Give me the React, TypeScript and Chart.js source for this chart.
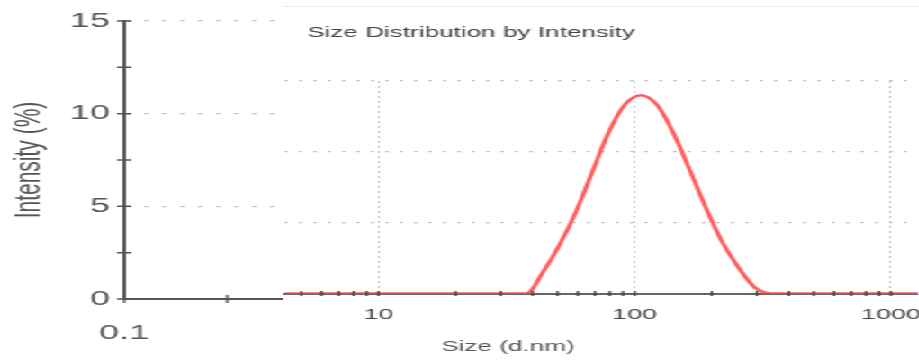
import { useEffect, useRef } from "react";
import { Chart, registerables } from "chart.js";

Chart.register(...registerables);
Chart.defaults.font.family = "'Liberation Sans', Arial, sans-serif";

// ---- data (panel: Size Distribution by Intensity) ----
const SIZES = [
  4.187, 4.849, 5.615, 6.503, 7.531, 8.721, 10.1, 11.7, 13.54, 15.69, 18.17, 21.04, 24.36, 28.21, 32.67,
  37.84, 43.82, 50.75, 58.77, 68.06, 78.82, 91.28, 105.7, 122.4, 141.8, 164.2, 190.1, 220.2, 255.0, 295.3,
  342.0, 396.1, 458.7, 531.2, 615.1, 712.4, 825.0, 955.4, 1106, 1281,
];
const INTENSITY = [
  0, 0, 0, 0, 0, 0, 0, 0, 0, 0, 0, 0, 0, 0, 0,
  0, 1.5, 3.4, 5.7, 8.5, 11.3, 13.3, 14.0, 13.3, 11.3, 8.7, 6.0, 3.6, 1.8, 0.4,
  0, 0, 0, 0, 0, 0, 0, 0, 0, 0,
];

const PANEL_X_TICKS = [5, 6, 7, 8, 9, 10, 20, 30, 40, 50, 60, 70, 80, 90, 100, 200, 300, 400, 500, 600, 700, 800, 900, 1000];
const PANEL_X_LABELS = ["10", "100", "1000"];
const PANEL_Y_GRID = [0, 5, 10, 15];

// ---- base axes (Intensity (%) vs size) ----
const BASE_Y_TICKS = [0, 2.5, 5, 7.5, 10, 12.5, 15];
const BASE_Y_LABELS = ["0", "5", "10", "15"];
const BASE_X_TICKS = [0.1, 1, 10, 100, 1000, 10000];
const BASE_X_LABELS = ["0.1"];

const TITLE = "Size Distribution by Intensity";
const X_TITLE = "Size (d.nm)";
const Y_TITLE = "Intensity (%)";

const crossTicks = {
  id: "crossTicks",
  afterDatasetsDraw(chart: any, _args: any, opts: any) {
    const ctx = chart.ctx;
    (opts.items || []).forEach((it: any) => {
      const sc = chart.scales[it.scale];
      if (!sc) return;
      ctx.save();
      ctx.strokeStyle = it.color;
      ctx.lineWidth = it.width;
      ctx.beginPath();
      sc.ticks.forEach((_t: any, i: number) => {
        const p = sc.getPixelForTick(i);
        if (sc.isHorizontal()) {
          ctx.moveTo(p, sc.top - it.half);
          ctx.lineTo(p, sc.top + it.half);
        } else {
          ctx.moveTo(sc.right - it.half, p);
          ctx.lineTo(sc.right + it.half, p);
        }
      });
      ctx.stroke();
      ctx.restore();
    });
  },
};

const panelText = {
  id: "panelText",
  afterDraw(chart: any, _args: any, opts: any) {
    const ctx = chart.ctx;
    const area = chart.chartArea;
    (opts.items || []).forEach((t: any) => {
      ctx.save();
      ctx.font = `${t.size}px 'Liberation Sans', Arial, sans-serif`;
      ctx.fillStyle = t.color;
      ctx.textAlign = t.align;
      ctx.textBaseline = "middle";
      ctx.fillText(t.text, area.left + t.dx, t.y);
      ctx.restore();
    });
  },
};

export default function App() {
  const baseRef = useRef<HTMLCanvasElement>(null);
  const panelRef = useRef<HTMLCanvasElement>(null);

  useEffect(() => {
    const base = new Chart(baseRef.current as HTMLCanvasElement, {
      type: "line",
      data: { datasets: [] },
      plugins: [crossTicks],
      options: {
        animation: false,
        responsive: true,
        maintainAspectRatio: false,
        events: [],
        layout: { padding: { top: 21, right: 156, bottom: 0, left: 0 } },
        plugins: {
          legend: { display: false },
          tooltip: { enabled: false },
          crossTicks: {
            items: [
              { scale: "y", half: 4, width: 1.5, color: "#555" },
              { scale: "x", half: 4, width: 1.3, color: "#555" },
            ],
          },
        } as any,
        scales: {
          x: {
            type: "logarithmic",
            min: 0.1,
            max: 10000,
            afterBuildTicks: (s: any) => {
              s.ticks = BASE_X_TICKS.map((v) => ({ value: v }));
            },
            afterFit: (s: any) => {
              s.height = 61;
              s.paddingLeft = 0;
              s.paddingRight = 0;
            },
            ticks: {
              autoSkip: false,
              maxRotation: 0,
              padding: 22,
              color: "#555",
              font: { size: 20 },
              callback: (v: any) => (BASE_X_LABELS.includes(String(v)) ? String(v) : ""),
            },
            grid: { drawOnChartArea: false, drawTicks: false },
            border: { color: "#555", width: 2 },
          },
          y: {
            type: "linear",
            min: 0,
            max: 15,
            afterBuildTicks: (s: any) => {
              s.ticks = BASE_Y_TICKS.map((v) => ({ value: v }));
            },
            afterFit: (s: any) => {
              s.width = 69;
              s.paddingTop = 0;
              s.paddingBottom = 0;
            },
            ticks: {
              padding: 8,
              color: "#555",
              font: { size: 20 },
              callback: (v: any) => (BASE_Y_LABELS.includes(String(v)) ? String(v) : ""),
            },
            grid: {
              drawTicks: false,
              lineWidth: 1.2,
              color: (c: any) =>
                c.tick && c.tick.value > 0 && BASE_Y_LABELS.includes(String(c.tick.value)) ? "#c4c4c4" : "rgba(0,0,0,0)",
            },
            border: { color: "#555", width: 2, dash: [2.5, 7.5] },
            title: {
              display: true,
              text: Y_TITLE,
              color: "#555",
              font: { size: 21 },
              padding: { top: 4, bottom: 0 },
            },
          },
        },
      } as any,
    });

    const panel = new Chart(panelRef.current as HTMLCanvasElement, {
      type: "line",
      data: {
        datasets: [
          {
            data: SIZES.map((s, i) => ({ x: s, y: INTENSITY[i] })),
            borderColor: "#ff5c5c",
            borderWidth: 2.5,
            pointRadius: 0,
            cubicInterpolationMode: "monotone",
            fill: false,
          },
        ],
      },
      plugins: [crossTicks, panelText],
      options: {
        animation: false,
        responsive: true,
        maintainAspectRatio: false,
        events: [],
        layout: { padding: { top: 74, right: 0, bottom: 0, left: 0 } },
        plugins: {
          legend: { display: false },
          tooltip: { enabled: false },
          crossTicks: { items: [{ scale: "x", half: 2.5, width: 1.3, color: "#444" }] },
          panelText: {
            items: [
              { text: TITLE, dx: 12.4, y: 26, size: 14.5, color: "#444", align: "left" },
              { text: X_TITLE, dx: 124, y: 340, size: 14.5, color: "#555", align: "center" },
            ],
          },
        } as any,
        scales: {
          x: {
            type: "logarithmic",
            min: 4.31,
            max: 1270,
            afterBuildTicks: (s: any) => {
              s.ticks = PANEL_X_TICKS.map((v) => ({ value: v }));
            },
            afterFit: (s: any) => {
              s.height = 66.5;
              s.paddingLeft = 0;
              s.paddingRight = 0;
            },
            ticks: {
              autoSkip: false,
              maxRotation: 0,
              padding: 12,
              color: "#444",
              font: { size: 15 },
              callback: (v: any) => (PANEL_X_LABELS.includes(String(v)) ? String(v) : ""),
            },
            grid: {
              drawTicks: false,
              lineWidth: 1,
              color: (c: any) =>
                c.tick && PANEL_X_LABELS.includes(String(c.tick.value)) ? "#c4c4c4" : "rgba(0,0,0,0)",
            },
            border: { color: "#666", width: 2, dash: [2, 3] },
          },
          y: {
            type: "linear",
            min: 0,
            max: 15,
            afterBuildTicks: (s: any) => {
              s.ticks = PANEL_Y_GRID.map((v) => ({ value: v }));
            },
            afterFit: (s: any) => {
              s.width = 0;
              s.paddingTop = 0;
              s.paddingBottom = 0;
            },
            ticks: { display: false },
            grid: {
              drawTicks: false,
              lineWidth: 1.2,
              color: (c: any) => (c.tick && c.tick.value > 0 ? "#c4c4c4" : "rgba(0,0,0,0)"),
            },
            border: { display: false, dash: [2, 6] },
          },
        },
      } as any,
    });

    return () => {
      base.destroy();
      panel.destroy();
    };
  }, []);

  return (
    <div
      style={{
        position: "absolute",
        left: 0,
        top: 0,
        width: 919,
        height: 360,
        overflow: "hidden",
        background: "#fff",
      }}
    >
      <div
        style={{
          position: "relative",
          width: 511,
          height: 360,
          transform: "scaleX(1.8)",
          transformOrigin: "0 0",
        }}
      >
        <div style={{ position: "absolute", left: 0, top: 0, width: 511, height: 360 }}>
          <canvas ref={baseRef} />
        </div>
        <div
          style={{
            position: "absolute",
            left: 157,
            top: 6,
            width: 354,
            height: 353,
            borderTop: "1px solid #ececec",
            background: "#fff",
          }}
        >
          <canvas ref={panelRef} />
        </div>
      </div>
    </div>
  );
}
